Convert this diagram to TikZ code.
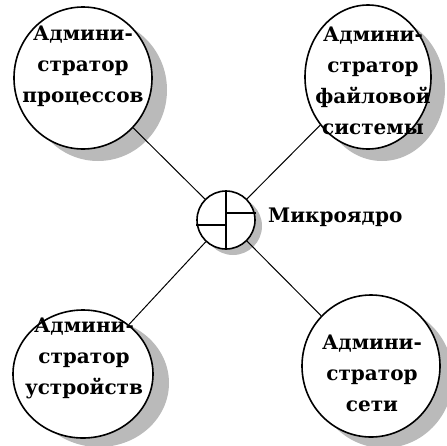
\documentclass[tikz,border=0pt]{standalone}
\usepackage{fontspec}
\newfontfamily\admfont{DejaVu Serif}
\usetikzlibrary{shapes.geometric}
\begin{document}
\begin{tikzpicture}[x=1pt,y=-1pt,
  admin/.style={ellipse,draw=black,line width=1.6pt,fill=white,inner sep=0pt},
  shadowfill/.style={fill=black!27},
  txt/.style={font=\admfont\bfseries\fontsize{20}{31}\selectfont,align=center,inner sep=0pt},
  link/.style={draw=black,line width=1pt}]
\useasboundingbox (0,0) rectangle (447,445);
% shadows
\path[shadowfill] (98,90) ellipse [x radius=69pt, y radius=71pt];
\path[shadowfill] (382,89) ellipse [x radius=63pt, y radius=72pt];
\path[shadowfill] (99,383) ellipse [x radius=70pt, y radius=64pt];
\path[shadowfill] (384,377) ellipse [x radius=69pt, y radius=71pt];
\path[shadowfill] (233,226) circle [radius=29pt];
% outer circles
\node[admin,minimum width=138pt,minimum height=142pt] (tl) at (83,78) {};
\node[admin,minimum width=126pt,minimum height=144pt] (tr) at (368,77) {};
\node[admin,minimum width=140pt,minimum height=128pt] (bl) at (83,374) {};
\node[admin,minimum width=138pt,minimum height=142pt] (br) at (371,366) {};
% microkernel
\node[circle,draw=black,line width=1.6pt,fill=white,minimum size=58pt,inner sep=0pt] (mk) at (226,220) {};
\draw[line width=1.6pt] (mk.north) -- (mk.south);
\draw[line width=1.6pt] (mk.center) ++(0,-7) coordinate (a) -- (a -| mk.east);
\draw[line width=1.6pt] (mk.center) ++(0,5) coordinate (b) -- (b -| mk.west);
% connectors
\draw[link] (mk) -- (tl);
\draw[link] (mk) -- (tr);
\draw[link] (mk) -- (bl);
\draw[link] (mk) -- (br);
% texts
\node[txt] (tlt) at (83,66) {Админи-\\стратор\\процессов};
\node[txt] (trt) at (373,81) {Админи-\\стратор\\файловой\\системы};
\node[txt] (blt) at (84,358) {Админи-\\стратор\\устройств};
\node[txt] (brt) at (372,373) {Админи-\\стратор\\сети};
\node[txt,anchor=west] (mkt) at (268,217) {Микроядро};
\end{tikzpicture}
\end{document}
